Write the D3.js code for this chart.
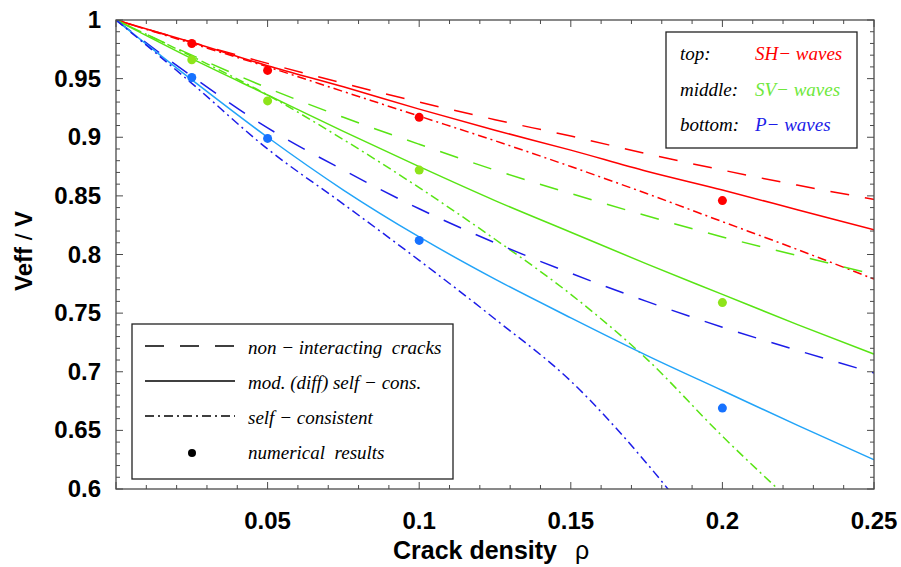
<!DOCTYPE html>
<html>
<head>
<meta charset="utf-8">
<script src="https://cdn.jsdelivr.net/npm/d3@7"></script>
<style>
  body { margin: 0; background: #fff; }
  svg { display: block; }
  .tick-label { font-family: "Liberation Sans", Arial, sans-serif; font-weight: bold; font-size: 24px; fill: #000; }
  .leg { font-family: "Liberation Serif", "Times New Roman", serif; font-style: italic; font-size: 19px; white-space: pre; }
</style>
</head>
<body>
<div class="canvas"></div>
<script>
// crack density grid used for the model curves
const rho = [0, 0.025, 0.05, 0.075, 0.1, 0.125, 0.15, 0.175, 0.2, 0.225, 0.25];

// SH waves (top)
const shNonInt = [1, 0.981, 0.963, 0.946, 0.930, 0.915, 0.901, 0.886, 0.872, 0.859, 0.847];
const shDiff   = [1, 0.981, 0.961, 0.943, 0.924, 0.906, 0.889, 0.871, 0.855, 0.838, 0.821];
const shSelf   = [1, 0.980, 0.960, 0.939, 0.918, 0.897, 0.875, 0.852, 0.828, 0.804, 0.779];

// SV waves (middle)
const svNonInt = [1, 0.970, 0.942, 0.917, 0.894, 0.872, 0.852, 0.833, 0.815, 0.799, 0.783];
const svDiff   = [1, 0.967, 0.936, 0.905, 0.875, 0.846, 0.819, 0.792, 0.766, 0.740, 0.715];
const svSelf   = [1, 0.969, 0.936, 0.898, 0.857, 0.813, 0.766, 0.711, 0.645, 0.584, null];

// P waves (bottom)
const pNonInt = [1, 0.952, 0.908, 0.872, 0.839, 0.810, 0.784, 0.760, 0.738, 0.718, 0.699];
const pDiff   = [1, 0.949, 0.900, 0.855, 0.815, 0.779, 0.746, 0.714, 0.684, 0.654, 0.625];
const pSelf   = [1, 0.946, 0.890, 0.843, 0.795, 0.745, 0.692, 0.622, 0.540, null, null];

// numerical results
const rhoNum = [0.025, 0.05, 0.1, 0.2];
const shNum = [0.980, 0.957, 0.917, 0.846];
const svNum = [0.966, 0.931, 0.872, 0.759];
const pNum  = [0.951, 0.899, 0.812, 0.669];

// tick labels
const xTicks = [0.05, 0.1, 0.15, 0.2, 0.25];
const yTicks = [0.6, 0.65, 0.7, 0.75, 0.8, 0.85, 0.9, 0.95, 1];

const dims = { width: 901, height: 567 };
const plot = { left: 116, right: 874, top: 20, bottom: 489 };

const colors = {
  red: "#ff0000",
  green: "#58e414",
  greenDot: "#8ee41a",
  greenText: "#6ee83c",
  blue: "#1c1ce8",
  lightBlue: "#22a4f8",
  blueDot: "#1672ff"
};

const dashes = {
  dashed: "19,16",
  solid: null,
  dashdot: "9,4,2,4"
};

const svg = d3.select(".canvas")
  .append("svg")
  .attr("width", dims.width)
  .attr("height", dims.height);

const x = d3.scaleLinear().domain([0, 0.25]).range([plot.left, plot.right]);
const y = d3.scaleLinear().domain([0.6, 1]).range([plot.bottom, plot.top]);

svg.append("defs").append("clipPath")
  .attr("id", "clip")
  .append("rect")
  .attr("x", plot.left)
  .attr("y", plot.top)
  .attr("width", plot.right - plot.left)
  .attr("height", plot.bottom - plot.top);

//curves
const line = d3.line()
  .defined(d => d[1] != null)
  .x(d => x(d[0]))
  .y(d => y(d[1]))
  .curve(d3.curveMonotoneX);

const curves = [
  { vals: shNonInt, color: colors.red, dash: dashes.dashed },
  { vals: shDiff, color: colors.red, dash: dashes.solid },
  { vals: shSelf, color: colors.red, dash: dashes.dashdot },
  { vals: svNonInt, color: colors.green, dash: dashes.dashed },
  { vals: svDiff, color: colors.green, dash: dashes.solid },
  { vals: svSelf, color: colors.green, dash: dashes.dashdot },
  { vals: pNonInt, color: colors.blue, dash: dashes.dashed },
  { vals: pDiff, color: colors.lightBlue, dash: dashes.solid },
  { vals: pSelf, color: colors.blue, dash: dashes.dashdot }
];

const graph = svg.append("g").attr("clip-path", "url(#clip)");

graph.selectAll("path.curve")
  .data(curves)
  .enter()
  .append("path")
  .attr("class", "curve")
  .attr("d", c => line(rho.map((r, i) => [r, c.vals[i]])))
  .attr("fill", "none")
  .attr("stroke", c => c.color)
  .attr("stroke-width", 1.5)
  .attr("stroke-dasharray", c => c.dash);

// numerical dots
const dotSets = [
  { vals: shNum, color: colors.red },
  { vals: svNum, color: colors.greenDot },
  { vals: pNum, color: colors.blueDot }
];

dotSets.forEach(s => {
  graph.selectAll(null)
    .data(rhoNum.map((r, i) => [r, s.vals[i]]))
    .enter()
    .append("circle")
    .attr("cx", d => x(d[0]))
    .attr("cy", d => y(d[1]))
    .attr("r", 4.5)
    .attr("fill", s.color);
});

////////////////////////// FRAME & TICKS ///////////////////////////////
const frameColor = "#4a4a4a";

svg.append("rect")
  .attr("x", plot.left)
  .attr("y", plot.top)
  .attr("width", plot.right - plot.left)
  .attr("height", plot.bottom - plot.top)
  .attr("fill", "none")
  .attr("stroke", frameColor)
  .attr("stroke-width", 1.3);

const xMinor = d3.range(0, 26).map(i => i / 100);
const yMinor = d3.range(60, 101).map(i => i / 100);
const isMajor = v => Math.abs(v * 20 - Math.round(v * 20)) < 1e-6;

const tickG = svg.append("g")
  .attr("stroke", frameColor)
  .attr("stroke-width", 1);

xMinor.forEach(v => {
  const len = isMajor(v) ? 7 : 4;
  tickG.append("line")
    .attr("x1", x(v)).attr("x2", x(v))
    .attr("y1", plot.bottom).attr("y2", plot.bottom - len);
  tickG.append("line")
    .attr("x1", x(v)).attr("x2", x(v))
    .attr("y1", plot.top).attr("y2", plot.top + len);
});

yMinor.forEach(v => {
  const len = isMajor(v) ? 7 : 4;
  tickG.append("line")
    .attr("x1", plot.left).attr("x2", plot.left + len)
    .attr("y1", y(v)).attr("y2", y(v));
  tickG.append("line")
    .attr("x1", plot.right).attr("x2", plot.right - len)
    .attr("y1", y(v)).attr("y2", y(v));
});

svg.selectAll("text.xt")
  .data(xTicks)
  .enter()
  .append("text")
  .attr("class", "tick-label")
  .attr("x", d => x(d))
  .attr("y", 529)
  .attr("text-anchor", "middle")
  .text(d => d3.format("")(d));

svg.selectAll("text.yt")
  .data(yTicks)
  .enter()
  .append("text")
  .attr("class", "tick-label")
  .attr("x", 101)
  .attr("y", d => y(d) + 8)
  .attr("text-anchor", "end")
  .text(d => d3.format("")(d));

// axis titles
const xTitle = svg.append("text")
  .attr("x", 393)
  .attr("y", 559)
  .attr("font-family", "Liberation Sans, Arial, sans-serif")
  .attr("font-weight", "bold")
  .attr("font-size", 25);
xTitle.append("tspan").text("Crack density");
xTitle.append("tspan")
  .attr("dx", 18)
  .attr("font-weight", "normal")
  .text("ρ");

const yTitle = svg.append("text")
  .attr("transform", "translate(32,251) rotate(-90)")
  .attr("text-anchor", "middle")
  .attr("font-family", "Liberation Sans, Arial, sans-serif")
  .attr("font-weight", "bold")
  .attr("font-size", 24);
yTitle.append("tspan").text("Veff ");
yTitle.append("tspan").attr("font-weight", "normal").text("/");
yTitle.append("tspan").text(" V");

////////////////////////// LEGENDS ///////////////////////////////
// wave legend (top right)
const waveRows = [
  { label: "top:", wave: "SH− waves", color: colors.red },
  { label: "middle:", wave: "SV− waves", color: colors.greenText },
  { label: "bottom:", wave: "P− waves", color: colors.blue }
];

const legWave = svg.append("g");
legWave.append("rect")
  .attr("x", 666).attr("y", 32)
  .attr("width", 191).attr("height", 116)
  .attr("fill", "#fff")
  .attr("stroke", "#222")
  .attr("stroke-width", 1.3);

waveRows.forEach((r, i) => {
  legWave.append("text")
    .attr("class", "leg")
    .attr("x", 680).attr("y", 60 + i * 35.5)
    .attr("fill", "#000")
    .text(r.label);
  legWave.append("text")
    .attr("class", "leg")
    .attr("x", 755).attr("y", 60 + i * 35.5)
    .attr("fill", r.color)
    .text(r.wave);
});

// method legend (bottom left)
const methodRows = [
  { label: "non − interacting  cracks", dash: dashes.dashed },
  { label: "mod. (diff) self − cons.", dash: dashes.solid },
  { label: "self − consistent", dash: dashes.dashdot },
  { label: "numerical  results", dash: "dot" }
];

const legMethod = svg.append("g");
legMethod.append("rect")
  .attr("x", 132).attr("y", 324)
  .attr("width", 321).attr("height", 155)
  .attr("fill", "#fff")
  .attr("stroke", "#222")
  .attr("stroke-width", 1.3);

methodRows.forEach((r, i) => {
  const base = 354 + i * 35;
  if (r.dash === "dot") {
    legMethod.append("circle")
      .attr("cx", 192).attr("cy", base - 6)
      .attr("r", 4)
      .attr("fill", "#000");
  } else {
    legMethod.append("line")
      .attr("x1", 145).attr("x2", 235)
      .attr("y1", base - 8).attr("y2", base - 8)
      .attr("stroke", "#000")
      .attr("stroke-width", 1.3)
      .attr("stroke-dasharray", r.dash);
  }
  legMethod.append("text")
    .attr("class", "leg")
    .attr("x", 248).attr("y", base)
    .attr("fill", "#000")
    .text(r.label);
});
</script>
</body>
</html>
